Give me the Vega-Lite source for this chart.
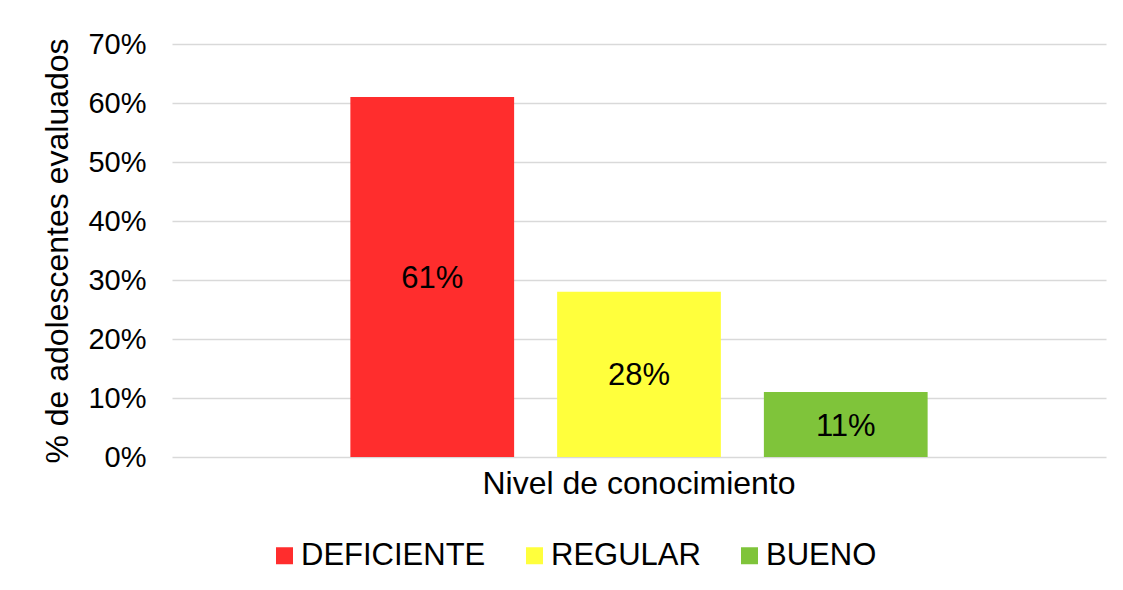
{
  "$schema": "https://vega.github.io/schema/vega-lite/v6.json",
  "width": 934,
  "height": 413,
  "autosize": "none",
  "padding": {"left": 172, "top": 44, "right": 17, "bottom": 133},
  "background": "white",
  "config": {
    "view": {"stroke": null},
    "font": "Liberation Sans"
  },
  "data": {
    "values": [
      {"nivel": "Nivel de conocimiento", "categoria": "DEFICIENTE", "pct": 0.61},
      {"nivel": "Nivel de conocimiento", "categoria": "REGULAR", "pct": 0.28},
      {"nivel": "Nivel de conocimiento", "categoria": "BUENO", "pct": 0.11}
    ]
  },
  "encoding": {
    "x": {
      "field": "nivel",
      "type": "nominal",
      "title": null,
      "scale": {"paddingInner": 0, "paddingOuter": 0.309},
      "axis": {
        "labelAngle": 0,
        "labelFontSize": 32,
        "labelColor": "black",
        "labelPadding": 11,
        "labelLimit": 0,
        "ticks": false,
        "domain": false,
        "grid": false
      }
    },
    "xOffset": {
      "field": "categoria",
      "type": "nominal",
      "sort": ["DEFICIENTE", "REGULAR", "BUENO"],
      "scale": {"paddingInner": 0.208, "paddingOuter": 0}
    }
  },
  "layer": [
    {
      "mark": {"type": "bar"},
      "encoding": {
        "y": {
          "field": "pct",
          "type": "quantitative",
          "title": "% de adolescentes evaluados",
          "scale": {"domain": [0, 0.7], "nice": false},
          "axis": {
            "values": [0, 0.1, 0.2, 0.3, 0.4, 0.5, 0.6, 0.7],
            "format": ".0%",
            "labelFontSize": 29,
            "labelColor": "black",
            "labelPadding": 26,
            "ticks": false,
            "domain": false,
            "grid": true,
            "gridColor": "#D9D9D9",
            "gridWidth": 1.5,
            "titleFontSize": 32,
            "titleFontWeight": "normal",
            "titleColor": "black",
            "titlePadding": 13
          }
        },
        "color": {
          "field": "categoria",
          "type": "nominal",
          "sort": ["DEFICIENTE", "REGULAR", "BUENO"],
          "scale": {
            "domain": ["DEFICIENTE", "REGULAR", "BUENO"],
            "range": ["#FF2D2D", "#FFFF3C", "#7FC43A"]
          },
          "legend": {
            "title": null,
            "orient": "none",
            "direction": "horizontal",
            "legendX": 97,
            "legendY": 496,
            "padding": 0,
            "symbolType": "square",
            "symbolSize": 289,
            "symbolStrokeWidth": 0,
            "labelFontSize": 31,
            "labelColor": "black",
            "labelOffset": 1,
            "labelLimit": 0,
            "columnPadding": 33
          }
        }
      }
    },
    {
      "transform": [{"calculate": "datum.pct / 2", "as": "mitad"}],
      "mark": {"type": "text", "fontSize": 31, "color": "black", "baseline": "middle", "align": "center", "dy": 2},
      "encoding": {
        "y": {"field": "mitad", "type": "quantitative", "title": "% de adolescentes evaluados"},
        "text": {"field": "pct", "type": "quantitative", "format": ".0%"}
      }
    }
  ]
}
